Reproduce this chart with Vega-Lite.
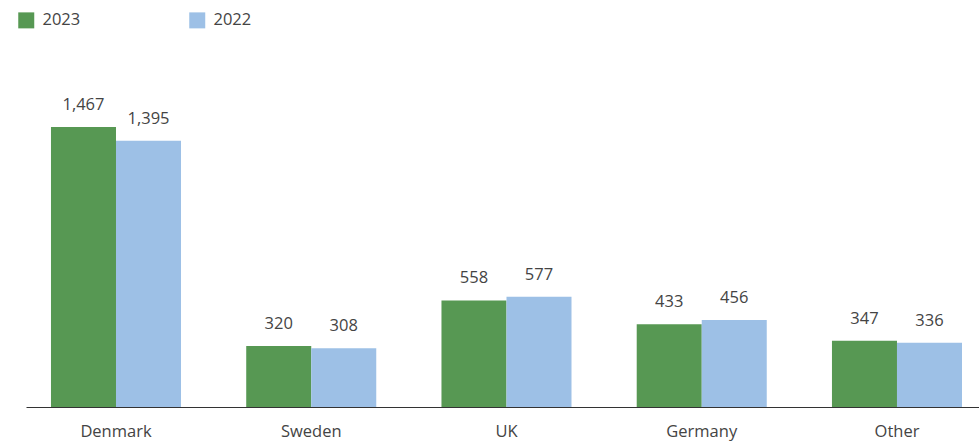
{
  "$schema": "https://vega.github.io/schema/vega-lite/v6.json",
  "autosize": {"type": "none"},
  "width": 953,
  "height": 347,
  "padding": {"left": 26, "top": 60, "right": 0, "bottom": 34},
  "background": "white",
  "config": {
    "view": {"stroke": null},
    "font": "Open Sans",
    "text": {"font": "Open Sans"}
  },
  "data": {
    "values": [
      {"country": "Denmark", "year": "2023", "value": 1467},
      {"country": "Denmark", "year": "2022", "value": 1395},
      {"country": "Sweden", "year": "2023", "value": 320},
      {"country": "Sweden", "year": "2022", "value": 308},
      {"country": "UK", "year": "2023", "value": 558},
      {"country": "UK", "year": "2022", "value": 577},
      {"country": "Germany", "year": "2023", "value": 433},
      {"country": "Germany", "year": "2022", "value": 456},
      {"country": "Other", "year": "2023", "value": 347},
      {"country": "Other", "year": "2022", "value": 336}
    ]
  },
  "encoding": {
    "x": {
      "field": "country",
      "type": "nominal",
      "sort": ["Denmark", "Sweden", "UK", "Germany", "Other"],
      "scale": {"paddingInner": 0.334, "paddingOuter": 0.1075, "align": 0.595},
      "axis": {
        "title": null,
        "labelAngle": 0,
        "ticks": false,
        "grid": false,
        "domainColor": "#333333",
        "domainWidth": 1,
        "labelFont": "Open Sans",
        "labelFontSize": 16.5,
        "labelColor": "#444444",
        "labelPadding": 16
      }
    },
    "xOffset": {"field": "year", "type": "nominal", "sort": ["2023", "2022"]},
    "y": {
      "field": "value",
      "type": "quantitative",
      "scale": {"domain": [0, 1818], "nice": false},
      "axis": null
    }
  },
  "layer": [
    {
      "mark": {"type": "bar"},
      "encoding": {
        "color": {
          "field": "year",
          "type": "nominal",
          "sort": ["2023", "2022"],
          "scale": {"domain": ["2023", "2022"], "range": ["#579853", "#9dc0e6"]},
          "legend": {
            "title": null,
            "orient": "none",
            "legendX": -8,
            "legendY": -48,
            "direction": "horizontal",
            "columns": 2,
            "columnPadding": 108,
            "symbolType": "square",
            "symbolSize": 256,
            "symbolStrokeWidth": 0,
            "labelFont": "Open Sans",
            "labelFontSize": 16.5,
            "labelColor": "#444444",
            "labelOffset": 8
          }
        }
      }
    },
    {
      "mark": {"type": "text", "baseline": "alphabetic", "dy": -17, "fontSize": 16.5, "color": "#444444", "font": "Open Sans"},
      "encoding": {
        "text": {"field": "value", "type": "quantitative", "format": ","}
      }
    }
  ]
}
